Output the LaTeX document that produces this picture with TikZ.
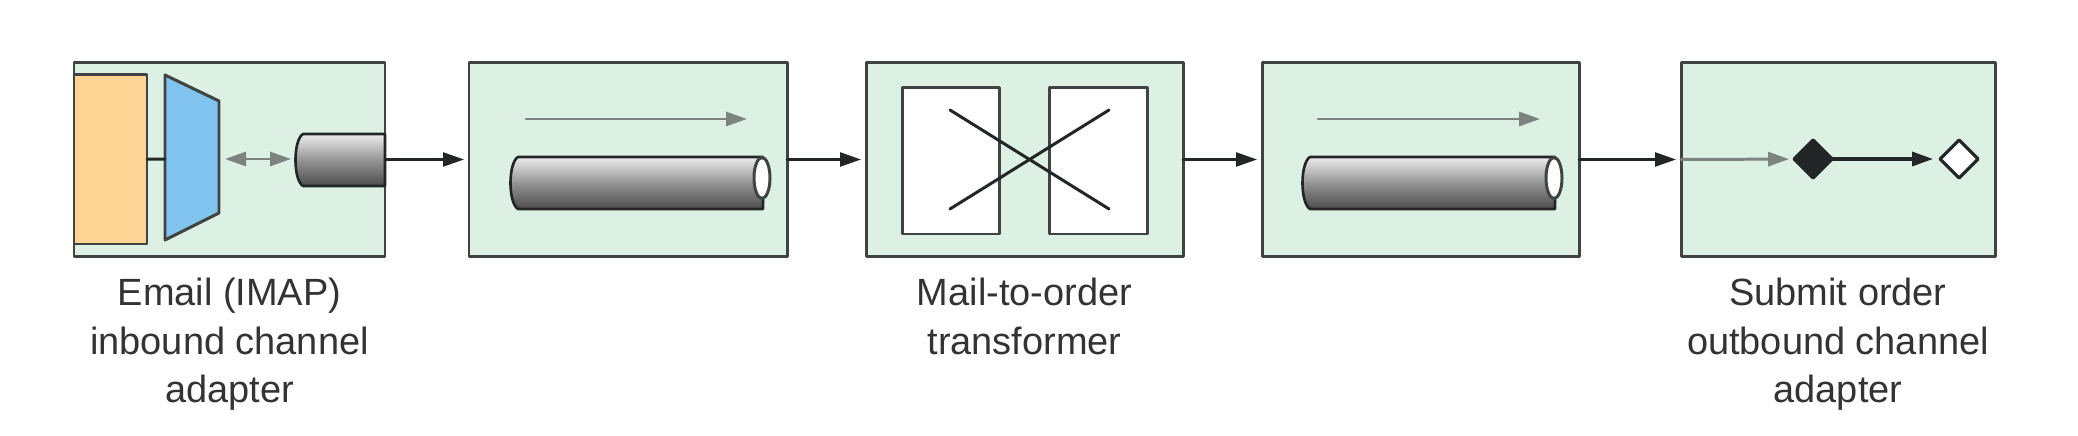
\documentclass[tikz,border=0pt]{standalone}
\usepackage{fontspec}
\setmainfont{Liberation Sans}
\usetikzlibrary{positioning,arrows.meta,shapes.geometric}
\definecolor{boxgreen}{HTML}{DDF0E4}
\definecolor{edgedark}{HTML}{3F4443}
\definecolor{mailorange}{HTML}{FFD595}
\definecolor{gateblue}{HTML}{7FC3EE}
\definecolor{flowgray}{HTML}{7C8480}
\definecolor{wirekey}{HTML}{222626}
\tikzset{
stagebox/.style={draw=edgedark,fill=boxgreen,line width=.85pt,minimum height=1.94cm,inner sep=0,outer sep=0},
partbox/.style={draw=edgedark,line width=.85pt,inner sep=0,outer sep=0},
caption/.style={align=center,text=black!80,font=\fontsize{10.8}{13.75}\selectfont,inner sep=0,outer sep=0},
wire/.style={draw=wirekey,line width=.7pt,->,shorten >=.05cm},
flow/.style={draw=flowgray,line width=.85pt,->},
pipebody/.style={draw=wirekey,line width=.75pt,top color=black!7,bottom color=black!70,middle color=black!42},
gem/.style={diamond,inner sep=0,outer sep=0,minimum width=.38cm,minimum height=.38cm,line width=.9pt,draw=wirekey}
}
% left, right, top, bottom
\newcommand{\pipeat}[4]{\draw[pipebody] (#1+.08,#3)--(#2,#3)--(#2,#4)--(#1+.08,#4) .. controls (#1-.02,#4+.06) and (#1-.02,#3-.06) .. (#1+.08,#3)--cycle;}
\begin{document}
\begin{tikzpicture}[line join=round,line cap=round,>={Stealth[inset=0pt,length=.21cm,width=.14cm]}]
\useasboundingbox (0,0) rectangle (20.78,4.36);
\node[stagebox,minimum width=3.11cm] (inbound) at (2.295,2.765) {};
\node[stagebox,minimum width=3.18cm,right=.84cm of inbound] (pipeA) {};
\node[stagebox,minimum width=3.17cm,right=.79cm of pipeA] (transform) {};
\node[stagebox,minimum width=3.17cm,right=.79cm of transform] (pipeB) {};
\node[stagebox,minimum width=3.14cm,right=1.02cm of pipeB] (outbound) {};
% inbound adapter
\node[partbox,fill=mailorange,minimum width=.73cm,minimum height=1.69cm,anchor=west] (mail) at (inbound.west) {};
\coordinate (gateW) at (1.65,2.77);
\coordinate (gateE) at (2.25,2.77);
\coordinate (stubW) at (2.91,2.77);
\draw[partbox,fill=gateblue] (1.65,3.61)--(2.19,3.35)--(2.19,2.23)--(1.65,1.96)--cycle;
\draw[draw=wirekey,line width=.85pt] (mail)--(gateW);
\draw[flow,<->] (gateE)--(stubW);
\pipeat{2.95}{3.85}{3.02}{2.50}
% channels
\draw[flow] (5.26,3.17)--(7.47,3.17);
\pipeat{5.10}{7.63}{2.79}{2.27}
\draw[partbox,fill=white] (7.62,2.58) ellipse (.08 and .205);
\draw[flow] (13.18,3.17)--(15.40,3.17);
\pipeat{13.02}{15.55}{2.79}{2.27}
\draw[partbox,fill=white] (15.54,2.58) ellipse (.08 and .205);
% transformer
\node[partbox,fill=white,minimum width=.97cm,minimum height=1.46cm] (leftdoc) at (9.505,2.75) {};
\node[partbox,fill=white,minimum width=.98cm,minimum height=1.46cm] (rightdoc) at (10.98,2.75) {};
\draw[draw=wirekey,line width=.85pt] (9.50,3.26)--(11.09,2.27) (9.50,2.27)--(11.09,3.26);
% outbound adapter
\node[gem,fill=wirekey] (filled) at (18.13,2.77) {};
\node[gem,fill=white] (open) at (19.59,2.77) {};
\draw[flow,shorten >=.05cm] (outbound.west)--(filled);
\draw[wire,line width=.95pt,shorten >=.07cm] (filled)--(open);
% between the stages
\draw[wire] (inbound)--(pipeA);
\draw[wire] (pipeA)--(transform);
\draw[wire] (transform)--(pipeB);
\draw[wire] (pipeB)--(outbound);
% captions
\node[caption,below=.22cm of inbound] (inboundtxt) {Email (IMAP)\\inbound channel\\adapter};
\node[caption,below=.22cm of transform] (transformtxt) {Mail-to-order\\transformer};
\node[caption,below=.22cm of outbound] (outboundtxt) {Submit order\\outbound channel\\adapter};
\end{tikzpicture}
\end{document}
